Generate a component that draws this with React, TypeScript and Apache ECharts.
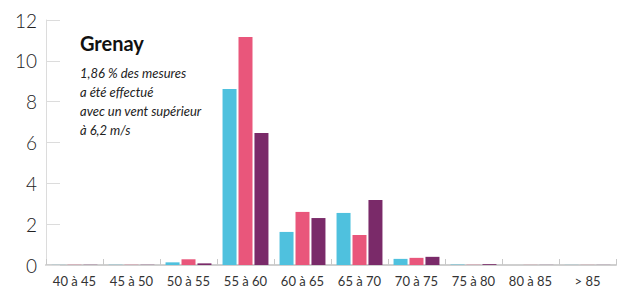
import React, { useEffect, useRef } from "react";
import * as echarts from "echarts";

const categories = ["40 à 45", "45 à 50", "50 à 55", "55 à 60", "60 à 65", "65 à 70", "70 à 75", "75 à 80", "80 à 85", "> 85"];
const seriesA = [0.005, 0.01, 0.13, 8.62, 1.62, 2.55, 0.3, 0.02, 0.005, 0.005];
const seriesB = [0.01, 0.01, 0.28, 11.17, 2.6, 1.47, 0.35, 0.01, 0.005, 0.005];
const seriesC = [0.01, 0.01, 0.08, 6.46, 2.3, 3.18, 0.4, 0.04, 0.005, 0.005];
const yTicks = [0, 2, 4, 6, 8, 10, 12];
const title = "Grenay";
const subtitleLines = ["1,86 % des mesures", "a été effectué", "avec un vent supérieur", "à 6,2 m/s"];

const colors = ["#4fc1de", "#e9567b", "#7a2a69"];

export default function App() {
  const ref = useRef<HTMLDivElement>(null);
  useEffect(() => {
    if (!ref.current) return;
    const chart = echarts.init(ref.current, undefined, { renderer: "svg" });
    const mk = (data: number[], c: string) => ({
      type: "bar",
      data,
      barWidth: 14,
      barGap: "14%",
      itemStyle: { color: c },
      emphasis: { disabled: true },
    });
    chart.setOption({
      animation: false,
      textStyle: { fontFamily: "Lato" },
      grid: { left: 46, right: 5, top: 20, bottom: 26, containLabel: false },
      title: [
        {
          text: title,
          left: 80,
          top: 33,
          padding: 0,
          textStyle: { fontFamily: "Lato", fontWeight: "bold", fontSize: 20, color: "#111" },
        },
        {
          text: subtitleLines.join("\n"),
          left: 80,
          top: 63,
          padding: 0,
          textStyle: { fontFamily: "Lato", fontStyle: "italic", fontWeight: "normal", fontSize: 13, color: "#222", lineHeight: 19 },
        },
      ],
      xAxis: {
        type: "category",
        data: categories,
        axisLine: { show: true, lineStyle: { color: "#cfcfcf", width: 2 } },
        axisTick: { show: true, inside: true, length: 6, lineStyle: { color: "#c8c8c8", width: 1 } },
        axisLabel: { color: "#333", fontSize: 13, fontFamily: "Lato", margin: 9, interval: 0 },
      },
      yAxis: {
        type: "value",
        min: 0,
        max: yTicks[yTicks.length - 1],
        interval: 2,
        axisLine: { show: true, lineStyle: { color: "#dcdcdc", width: 1 } },
        axisTick: { show: true, inside: true, length: 14, lineStyle: { color: "#dcdcdc" } },
        splitLine: { show: false },
        axisLabel: { color: "#222", fontSize: 19, fontFamily: "Lato", fontWeight: 300, margin: 9 },
      },
      series: [mk(seriesA, colors[0]), mk(seriesB, colors[1]), mk(seriesC, colors[2])],
    });
    return () => chart.dispose();
  }, []);
  return <div ref={ref} style={{ width: 621, height: 291, position: "absolute", left: 0, top: 0 }} />;
}
